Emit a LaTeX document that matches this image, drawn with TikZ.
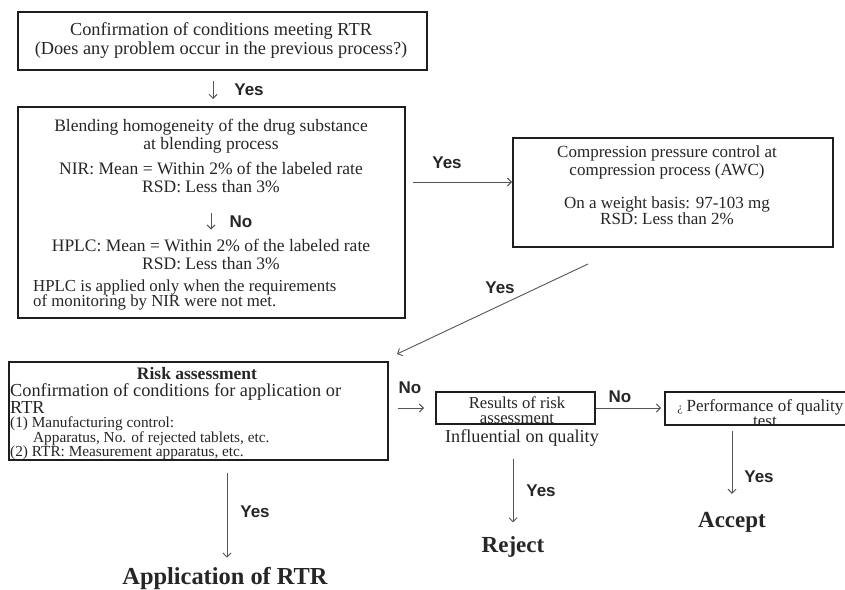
\documentclass[tikz,border=0pt]{standalone}
\usepackage{fontspec}
\setmainfont{Liberation Serif}
\newfontfamily\lblfont{Liberation Sans}
\usetikzlibrary{arrows.meta}
\definecolor{txtc}{HTML}{262626}
\definecolor{boxc}{HTML}{1E1E1E}
\definecolor{arrc}{HTML}{555555}
\begin{document}
\begin{tikzpicture}[x=1pt,y=-1pt,
  box/.style={draw=boxc,line width=2pt,inner sep=0pt},
  txt/.style={text=txtc,inner sep=0pt,align=center,font=\fontsize{17.5}{18}\selectfont},
  sm/.style={text=txtc,inner sep=0pt,align=left,font=\fontsize{15.3}{14.5}\selectfont},
  lbl/.style={text=txtc,inner sep=0pt,font=\lblfont\bfseries\fontsize{17}{18}\selectfont},
  big/.style={text=txtc,inner sep=0pt,font=\bfseries\fontsize{23}{25}\selectfont},
  conn/.style={draw=arrc,line width=0.9pt,-{Straight Barb[length=4pt,width=8pt]}}]
\useasboundingbox (0,0) rectangle (845,589);
\fill[white] (0,0) rectangle (845,589);

% Box 1
\node[box,minimum width=409pt,minimum height=58pt] (b1) at (222.5,41) {};
\node[txt,font=\fontsize{18.3}{19}\selectfont] (t1) at (221,41) {Confirmation of conditions meeting RTR\\(Does any problem occur in the previous process?)};

% Box 2
\node[box,minimum width=387pt,minimum height=211pt] (b2) at (211.5,212.5) {};
\node[txt] (t2a) at (211,136) {Blending homogeneity of the drug substance\\at blending process};
\node[txt] (t2b) at (211,177) {NIR: Mean = Within 2\% of the labeled rate\\RSD: Less than 3\%};
\node[txt] (t2c) at (211,254) {HPLC: Mean = Within 2\% of the labeled rate\\RSD: Less than 3\%};
\node[txt,anchor=west,align=left,font=\fontsize{16.8}{15.5}\selectfont] (t2d) at (33,295) {HPLC is applied only when the requirements\\of monitoring by NIR were not met.};
\node[lbl] (lno1) at (241,222) {No};

% Box 3
\node[box,minimum width=320pt,minimum height=109pt] (b3) at (673,192.5) {};
\node[txt,font=\fontsize{17}{18}\selectfont] (t3a) at (667,162) {Compression pressure control at\\compression process (AWC)};
\node[txt,font=\fontsize{17}{16}\selectfont] (t3b) at (667,210.5) {On a weight basis: 97-103 mg\\RSD: Less than 2\%};

% Box 4
\node[box,minimum width=379pt,minimum height=98pt] (b4) at (198.5,411) {};
\node[txt,font=\bfseries\fontsize{17.5}{18}\selectfont] (t4a) at (197,374) {Risk assessment};
\node[txt,anchor=west,align=left,font=\fontsize{18.3}{15}\selectfont] (t4b) at (10,398.5) {Confirmation of conditions for application or\\RTR};
\node[sm,anchor=west] (t4c) at (10,438.5) {(1) Manufacturing control:\\\hspace*{23pt}Apparatus, No. of rejected tablets, etc.\\(2) RTR: Measurement apparatus, etc.};

% Box 5
\begin{scope}
\clip (436,392) rectangle (595,424);
\node[txt,font=\fontsize{16.7}{15}\selectfont] (t5) at (517,410) {Results of risk\\assessment};
\end{scope}
\node[box,minimum width=159pt,minimum height=32pt] (b5) at (515.5,408) {};
\node[txt,font=\fontsize{18.2}{19}\selectfont] (infl) at (522,438) {Influential on quality};

% Box 6
\begin{scope}
\clip (665,392) rectangle (865,425);
\node[txt,font=\fontsize{17}{15}\selectfont] (t6) at (765,413.5) {Performance of quality\\test};
\end{scope}
\node[box,minimum width=200pt,minimum height=33pt] (b6) at (765,408.5) {};
\node[txt,font=\fontsize{12}{12}\selectfont] (mark) at (680,410) {¿};

% End nodes
\node[big,font=\bfseries\fontsize{24.4}{26}\selectfont] (app) at (225,578) {Application of RTR};
\node[big] (rej) at (513,547) {Reject};
\node[big] (acc) at (732,522) {Accept};

% Connectors
\draw[conn,shorten <=10pt,shorten >=7pt] ([xshift=-9.5pt]b1.south) -- ([xshift=-9.5pt]b1.south |- b2.north);
\node[lbl] (ly1) at (249,90) {Yes};

\draw[conn,shorten <=21pt,shorten >=9pt] (t2b.south) -- (t2b.south |- t2c.north);

\draw[conn,shorten <=7pt] ([yshift=30.5pt]b2.east) -- ([yshift=10.5pt]b3.west);
\node[lbl] (ly2) at (447,163) {Yes};

\draw[conn] ([xshift=-85pt,yshift=-16pt]b3.south) -- ([xshift=8pt,yshift=7pt]b4.north east);
\node[lbl] (ly3) at (500,288) {Yes};

\draw[conn,shorten <=9pt,shorten >=11pt] (b4.east |- b5.west) -- (b5.west);
\node[lbl] (ln2) at (410,388) {No};

\draw[conn,shorten >=3pt] (b5.east) -- (b5.east -| b6.west);
\node[lbl] (ln3) at (620,397) {No};

\draw[conn,shorten <=12pt,shorten >=9pt] ([xshift=28.5pt]b4.south) -- ([xshift=28.5pt]b4.south |- app.north);
\node[lbl] (ly4) at (255,512) {Yes};

\draw[conn,shorten <=12pt,shorten >=14pt] (infl.south -| rej.north) -- (rej.north);
\node[lbl] (ly5) at (541,491) {Yes};

\draw[conn,shorten <=5pt,shorten >=18pt] ([xshift=-33pt]b6.south) -- ([xshift=-33pt]b6.south |- acc.north);
\node[lbl] (ly6) at (759,477) {Yes};
\end{tikzpicture}
\end{document}
